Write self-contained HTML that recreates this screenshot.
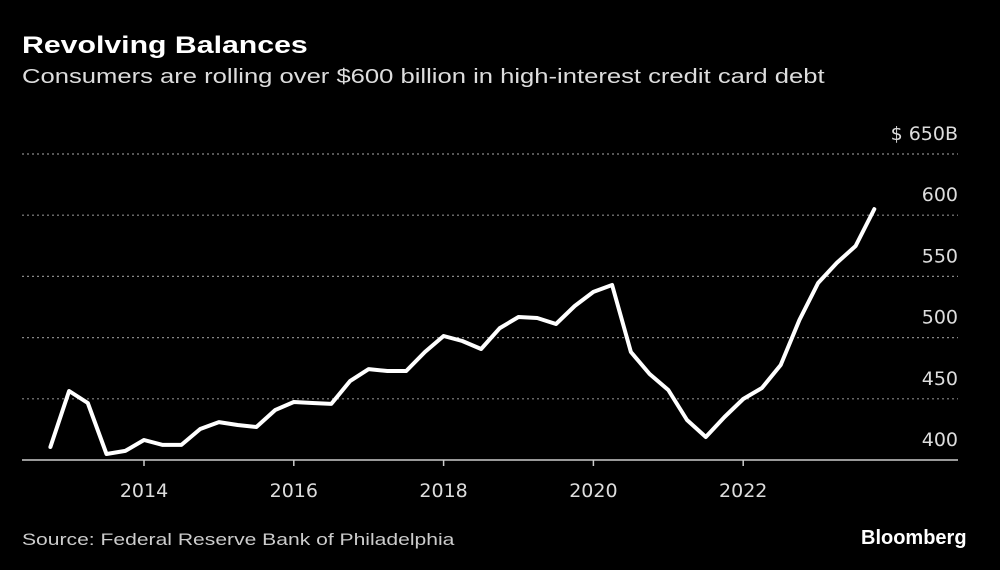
<!DOCTYPE html>
<html><head><meta charset="utf-8"><style>
html,body{margin:0;padding:0;background:#000;}
body{width:1000px;height:570px;overflow:hidden;position:relative;font-family:"Liberation Sans",sans-serif;color:#fff;}
.t{position:absolute;white-space:nowrap;transform-origin:0 0;}
</style></head><body>
<div class="t" style="left:22px;top:32px;font-size:24px;font-weight:bold;transform:scaleX(1.26);">Revolving Balances</div>
<div class="t" style="left:22px;top:66px;font-size:20px;color:#ddd;transform:scaleX(1.28);">Consumers are rolling over $600 billion in high-interest credit card debt</div>
<svg id="chart" width="1000" height="570" style="position:absolute;left:0;top:0;"></svg>
<div class="t" style="left:22px;top:530px;font-size:17px;color:#ccc;transform:scaleX(1.24);">Source: Federal Reserve Bank of Philadelphia</div>
<div class="t" style="left:861px;top:527px;font-size:20px;font-weight:bold;">Bloomberg</div>
<script>
const startYear = 2012.75;
const values = [410.6,456.4,446.6,404.9,407.4,416.3,412.3,412.3,425.3,431,428.6,427,440.8,447.4,446.6,445.8,464.5,474.3,472.7,472.7,488.2,501.3,497.2,490.7,507.8,516.8,516,511.1,525.8,537.3,543,488.2,470.3,457.2,432.7,418.8,435.1,449.8,458.8,477.6,514.4,544.6,561,574.8,605];
const yTicks = [400,450,500,550,600,650];
const yTickLabels = ["400","450","500","550","600","$ 650B"];
const xTicks = [2014,2016,2018,2020,2022];
const ns="http://www.w3.org/2000/svg";
const svg=document.getElementById('chart');
const x=yr=>144+(yr-2014)*74.9;
const y=v=>460-(v-400)*61.2/50;
function mk(t,a){const e=document.createElementNS(ns,t);for(const k in a)e.setAttribute(k,a[k]);svg.appendChild(e);return e;}
yTicks.forEach((v,i)=>{
  if(v>400){const g=mk('line',{x1:22,x2:958,y1:y(v),y2:y(v),stroke:'#888','stroke-width':1.2,'stroke-dasharray':'2,3'});
  
  }
  const t=mk('text',{x:958,y:y(v)-14,'text-anchor':'end','font-size':19,fill:'#ddd','font-family':'DejaVu Sans, sans-serif'});
  t.textContent=yTickLabels[i];
  
  
});
const ax=mk('line',{x1:22,x2:958,y1:460,y2:460,stroke:'#ccc','stroke-width':1.5});


xTicks.forEach(yr=>{
  const tk=mk('line',{x1:x(yr),x2:x(yr),y1:460,y2:466,stroke:'#ccc','stroke-width':1.5});
  
  
  const t=mk('text',{x:x(yr),y:497,'text-anchor':'middle','font-size':19,fill:'#ddd','font-family':'DejaVu Sans, sans-serif'});
  t.textContent=yr;
  
  
});
const pts=values.map((v,i)=>x(startYear+i*0.25).toFixed(1)+','+y(v).toFixed(1)).join(' ');
const line=mk('polyline',{points:pts,fill:'none',stroke:'#fff','stroke-width':4,'stroke-linejoin':'round','stroke-linecap':'round'});


</script>
</body></html>
